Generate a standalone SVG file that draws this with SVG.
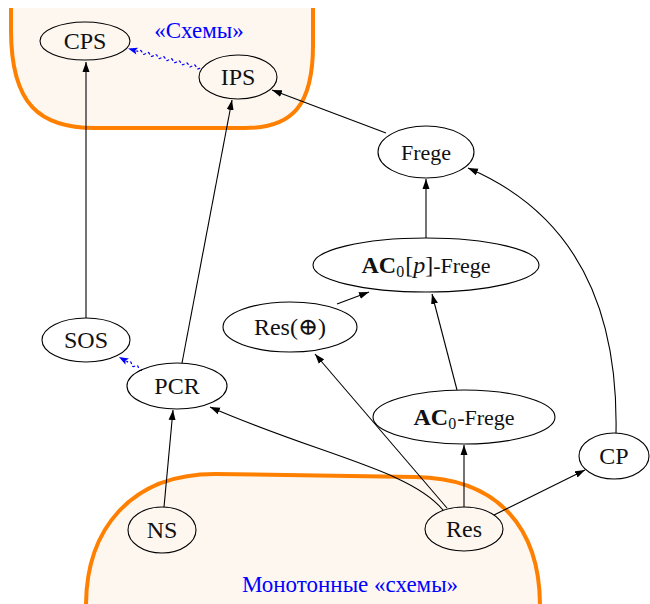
<svg xmlns="http://www.w3.org/2000/svg" width="650" height="604" viewBox="0 0 650 604">
  <style>
    .blob { fill: #fef7f0; stroke: #ff8000; stroke-width: 4; }
    .node { fill: none; stroke: #000; stroke-width: 1.1; }
    .lbl { font-family: "Liberation Serif", "DejaVu Serif", serif; font-size: 24px; fill: #111; text-anchor: middle; }
    .frg { font-family: "Liberation Serif", "DejaVu Serif", serif; font-size: 22px; fill: #111; text-anchor: middle; }
    .blue { font-family: "Liberation Serif", "DejaVu Serif", serif; font-size: 23px; fill: #0000ff; text-anchor: middle; }
    .edge { fill: none; stroke: #000; stroke-width: 1.1; marker-end: url(#arr); }
    .wave { fill: none; stroke: #0000ff; stroke-width: 1.2; stroke-dasharray: 3 2; }
  </style>
  <defs>
    <marker id="arr" markerUnits="userSpaceOnUse" markerWidth="10" markerHeight="8" refX="10" refY="4" orient="auto">
      <path d="M0,0.5 L10,4 L0,7.5 z" fill="#000"/>
    </marker>
  </defs>

  <!-- regions -->
  <g id="region-schemes">
    <path class="blob" d="M11,8 L11,30 C11,105 40,128 95,128 L245,128 C293,128 313,105 313,45 L313,8"/>
    <text class="blue" x="199" y="38">«Схемы»</text>
  </g>
  <g id="region-monotone">
    <path class="blob" d="M86,606 C86,530 130,474 215,474 L415,477 C500,478 540,530 540,606"/>
    <text class="blue" x="350" y="592">Монотонные «схемы»</text>
  </g>

  <!-- connectors -->
  <g id="connectors">
    <path class="edge" d="M86,318 L86,62"/>
    <path class="edge" d="M182,363 L232,100"/>
    <path class="edge" d="M386,133 L272,90"/>
    <path class="edge" d="M426,238 L426,179"/>
    <path class="edge" d="M337,304 L369,292"/>
    <path class="edge" d="M457,390 L432,294"/>
    <path class="edge" d="M616,433 C618,330 590,220 468,168"/>
    <path class="edge" d="M494,515 L585,470"/>
    <path class="edge" d="M464,507 L464,445"/>
    <path class="edge" d="M447,508 L315,354"/>
    <path class="edge" d="M443,510 C410,470 320,455 210,407"/>
    <path class="edge" d="M164,507 L173,410"/>
    <!-- dashed snake arrows -->
    <g transform="translate(200,68) rotate(195.1)">
      <path class="wave" d="M0,0 q2,-3 4,0 t4,0 t4,0 t4,0 t4,0 t4,0 t4,0 t4,0 t4,0 t4,0 t4,0 t4,0 t4,0 t4,0 t4,0 t4,0 L66,0"/>
      <path d="M74.5,0 L65,-3.5 L67,0 L65,3.5 z" fill="#0000ff"/>
    </g>
    <g transform="translate(142,370) rotate(209.5)">
      <path class="wave" d="M0,0 q2,-3 4,0 t4,0 t4,0 t4,0 L18,0"/>
      <path d="M26.5,0 L17,-3.5 L19,0 L17,3.5 z" fill="#0000ff"/>
    </g>
  </g>

  <!-- nodes -->
  <g id="n-cps"><ellipse class="node" cx="85" cy="41" rx="45" ry="19"/><text class="lbl" x="85" y="49">CPS</text></g>
  <g id="n-ips"><ellipse class="node" cx="238" cy="77" rx="39" ry="22"/><text class="lbl" x="238" y="85">IPS</text></g>
  <g id="n-frege"><ellipse class="node" cx="426" cy="152" rx="48" ry="26"/><text class="frg" x="426" y="159.5">Frege</text></g>
  <g id="n-ac0p"><ellipse class="node" cx="426" cy="265" rx="113" ry="27"/><text class="frg" x="426" y="273"><tspan font-weight="bold" font-size="24">AC</tspan><tspan font-size="16" dy="4">0</tspan><tspan dy="-4" font-size="24" dx="1">[</tspan><tspan font-style="italic" font-size="24">p</tspan><tspan font-size="24">]</tspan>-Frege</text></g>
  <g id="n-resxor"><ellipse class="node" cx="290" cy="327" rx="67" ry="25"/><text class="lbl" x="290" y="335">Res(⊕)</text></g>
  <g id="n-sos"><ellipse class="node" cx="86" cy="340" rx="44" ry="22"/><text class="lbl" x="86" y="348">SOS</text></g>
  <g id="n-pcr"><ellipse class="node" cx="177" cy="386" rx="50" ry="23"/><text class="lbl" x="177" y="394">PCR</text></g>
  <g id="n-ac0"><ellipse class="node" cx="464" cy="417" rx="91" ry="27"/><text class="frg" x="464" y="425"><tspan font-weight="bold" font-size="24">AC</tspan><tspan font-size="16" dy="4">0</tspan><tspan dy="-4" dx="1">-Frege</tspan></text></g>
  <g id="n-cp"><ellipse class="node" cx="614" cy="456" rx="35" ry="23"/><text class="lbl" x="614" y="464">CP</text></g>
  <g id="n-ns"><ellipse class="node" cx="162" cy="530" rx="34" ry="23"/><text class="lbl" x="162" y="538">NS</text></g>
  <g id="n-res"><ellipse class="node" cx="464" cy="529" rx="39" ry="22"/><text class="lbl" x="464" y="537">Res</text></g>
</svg>
